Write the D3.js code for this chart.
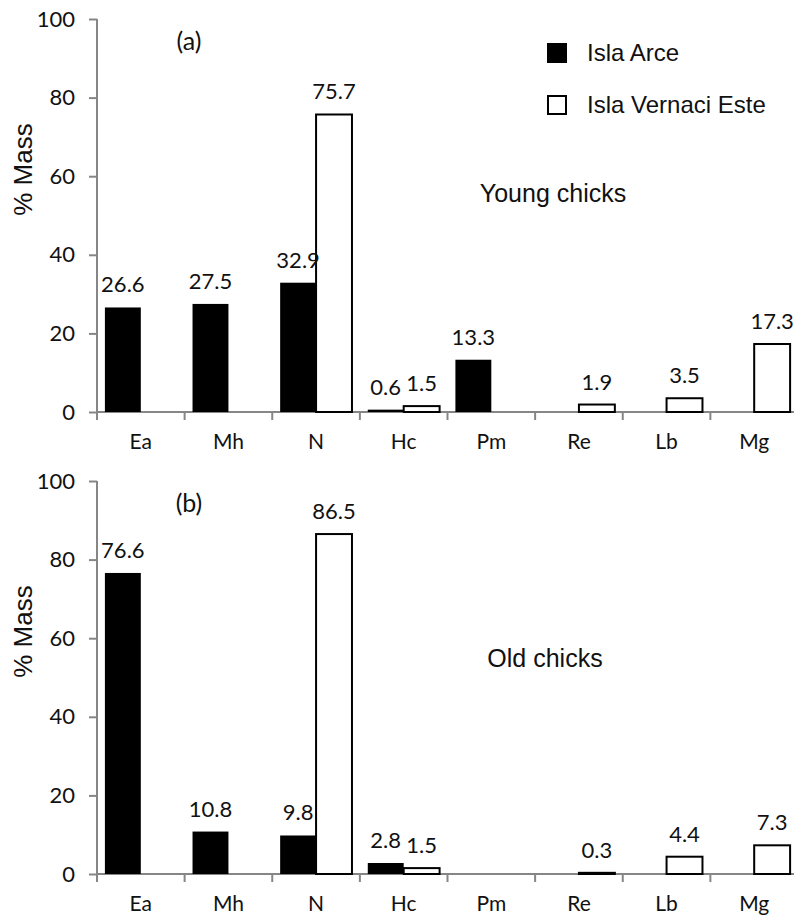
<!DOCTYPE html>
<html>
<head>
<meta charset="utf-8">
<script src="https://cdn.jsdelivr.net/npm/d3@7"></script>
<style>
	body { margin: 0; background: #fff; }
	svg text { fill: #111; }
</style>
</head>
<body>
<svg id="chart" width="794" height="918"></svg>
<script>
var categories = ['Ea', 'Mh', 'N', 'Hc', 'Pm', 'Re', 'Lb', 'Mg'];
var seriesNames = ['Isla Arce', 'Isla Vernaci Este'];
var yTicks = [0, 20, 40, 60, 80, 100];

// (a) young chicks
var youngArce    = [26.6, 27.5, 32.9, 0.6, 13.3, 0, 0, 0];
var youngVernaci = [0, 0, 75.7, 1.5, 0, 1.9, 3.5, 17.3];
// (b) old chicks
var oldArce      = [76.6, 10.8, 9.8, 2.8, 0, 0, 0, 0];
var oldVernaci   = [0, 0, 86.5, 1.5, 0, 0.3, 4.4, 7.3];

var panels = [
	{tag : '(a)', title : 'Young chicks', arce : youngArce, vernaci : youngVernaci, top : 19, bottom : 412, titleX : 553, titleY : 193},
	{tag : '(b)', title : 'Old chicks', arce : oldArce, vernaci : oldVernaci, top : 481, bottom : 874, titleX : 545, titleY : 658}
];

var numFont = 'Lato, "Open Sans", sans-serif';
var txtFont = 'Arial, "Liberation Sans", sans-serif';
var axisColor = '#868686';

var svg = d3.select('#chart');

var x = d3.scaleBand()
		.domain(categories)
		.range([97, 798]);

var xInner = d3.scaleBand()
		.domain(seriesNames)
		.range([0, x.bandwidth()])
		.paddingOuter(0.22);

panels.forEach(function(p){
	var y = d3.scaleLinear()
			.domain([0, 100])
			.range([p.bottom, p.top]);

	var g = svg.append('g');

	//y axis
	var yAxis = g.append('g')
		.attr('transform', 'translate(97,0)')
		.call(d3.axisLeft(y).tickValues(yTicks).tickSize(8).tickPadding(14));
	yAxis.attr('font-family', null).attr('font-size', null);
	yAxis.selectAll('text').style('font-family', numFont).style('font-size', '22px');
	yAxis.selectAll('line,path').attr('stroke', axisColor).attr('stroke-width', 2);
	yAxis.select('path').attr('d', `M0,${y(100)}V${y(0)}`);

	//x axis line + boundary ticks
	g.append('line')
		.attr('x1', 97).attr('x2', 798)
		.attr('y1', y(0)).attr('y2', y(0))
		.attr('stroke', axisColor).attr('stroke-width', 2);

	g.selectAll('.xtick')
		.data(categories)
		.enter()
		.append('line')
		.attr('x1', (d)=>x(d)).attr('x2', (d)=>x(d))
		.attr('y1', y(0)).attr('y2', y(0) + 8)
		.attr('stroke', axisColor).attr('stroke-width', 2);

	g.selectAll('.xlab')
		.data(categories)
		.enter()
		.append('text')
		.style('font-family', numFont)
		.style('font-size', '21px')
		.attr('x', (d)=>x(d) + x.bandwidth() / 2)
		.attr('y', y(0) + 30)
		.attr('dy', '0.35em')
		.attr('text-anchor', 'middle')
		.text((d)=>d);

	//bars
	var rows = [];
	categories.forEach(function(c, i){
		rows.push({cat : c, series : seriesNames[0], val : p.arce[i]});
		rows.push({cat : c, series : seriesNames[1], val : p.vernaci[i]});
	});
	rows = rows.filter((d)=>d.val > 0);

	g.selectAll('.bar')
		.data(rows)
		.enter()
		.append('rect')
		.attr('x', (d)=>x(d.cat) + xInner(d.series))
		.attr('width', xInner.bandwidth())
		.attr('y', (d)=>y(d.val))
		.attr('height', (d)=>y(0) - y(d.val))
		.attr('fill', (d)=>d.series === seriesNames[0] ? '#000' : '#fff')
		.attr('stroke', '#000')
		.attr('stroke-width', (d)=>d.series === seriesNames[0] ? 0 : 2);

	g.selectAll('.val')
		.data(rows)
		.enter()
		.append('text')
		.style('font-family', numFont)
		.style('font-size', '22px')
		.attr('x', (d)=>x(d.cat) + xInner(d.series) + xInner.bandwidth() / 2)
		.attr('y', (d)=>y(d.val) - 15)
		.attr('text-anchor', 'middle')
		.text((d)=>d.val.toFixed(1));

	//y label
	g.append('text')
		.style('font-family', txtFont)
		.style('font-size', '26px')
		.attr('transform', `translate(32,${(p.top + p.bottom) / 2 - 46}) rotate(-90)`)
		.attr('text-anchor', 'middle')
		.text('% Mass');

	g.append('text')
		.style('font-family', numFont)
		.style('font-size', '25px')
		.attr('x', 189)
		.attr('y', p.top + 22)
		.attr('dy', '0.35em')
		.attr('text-anchor', 'middle')
		.text(p.tag);

	g.append('text')
		.style('font-family', txtFont)
		.style('font-size', '25px')
		.attr('x', p.titleX)
		.attr('y', p.titleY)
		.attr('dy', '0.35em')
		.attr('text-anchor', 'middle')
		.text(p.title);
});

//legend
var legend = svg.append('g')
	.selectAll('g')
	.data(seriesNames)
	.enter()
	.append('g')
	.attr('transform', (d, i)=>`translate(547,${43 + i * 52})`);

legend.append('rect')
	.attr('width', (d, i)=>i === 0 ? 20 : 18)
	.attr('height', (d, i)=>i === 0 ? 20 : 18)
	.attr('x', (d, i)=>i === 0 ? 0 : 1)
	.attr('y', (d, i)=>i === 0 ? 0 : 1)
	.attr('fill', (d, i)=>i === 0 ? '#000' : '#fff')
	.attr('stroke', '#000')
	.attr('stroke-width', (d, i)=>i === 0 ? 0 : 2);

legend.append('text')
	.style('font-family', txtFont)
	.style('font-size', '24px')
	.attr('x', 40)
	.attr('y', 10)
	.attr('dy', '0.35em')
	.text((d)=>d);
</script>
</body>
</html>
